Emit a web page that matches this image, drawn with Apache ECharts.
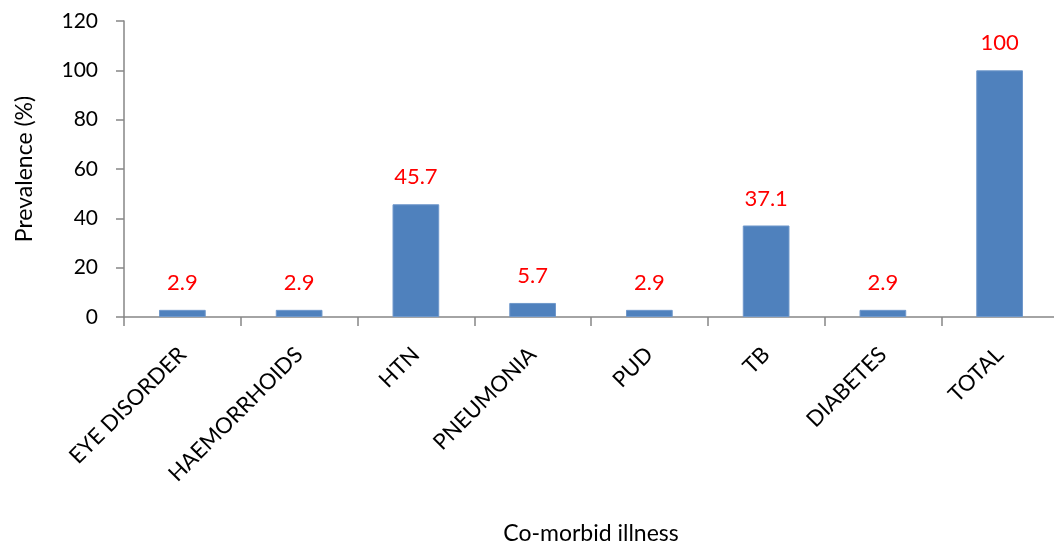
<!DOCTYPE html>
<html>
<head>
<meta charset="utf-8">
<script src="https://cdn.jsdelivr.net/npm/echarts@6/dist/echarts.min.js"></script>
<style>
html,body{margin:0;padding:0;background:#fff;}
#chart{width:1054px;height:546px;}
</style>
</head>
<body>
<div id="chart"></div>
<script>
var categories = ["EYE DISORDER", "HAEMORRHOIDS", "HTN", "PNEUMONIA", "PUD", "TB", "DIABETES", "TOTAL"];
var prevalence = [2.9, 2.9, 45.7, 5.7, 2.9, 37.1, 2.9, 100];
var yTicks = [0, 20, 40, 60, 80, 100, 120];

var font = "Lato, 'Noto Sans', sans-serif";
var chart = echarts.init(document.getElementById("chart"));
chart.setOption({
    animation: false,
    grid: {
        left: 124,
        right: -4,
        top: 21,
        bottom: 229,
        outerBoundsMode: "none",
        containLabel: false
    },
    xAxis: {
        type: "category",
        data: categories,
        name: "Co-morbid illness",
        nameLocation: "middle",
        nameGap: 205,
        nameTextStyle: {color: "#000", fontSize: 23, fontFamily: font},
        axisLine: {lineStyle: {color: "#868686", width: 1.5}},
        axisTick: {show: true, length: 9, lineStyle: {color: "#868686", width: 1.5}},
        axisLabel: {
            rotate: 45,
            interval: 0,
            margin: 34,
            color: "#000",
            fontSize: 22,
            fontFamily: font
        }
    },
    yAxis: {
        type: "value",
        min: yTicks[0],
        max: yTicks[yTicks.length - 1],
        interval: 20,
        name: "Prevalence (%)",
        nameLocation: "middle",
        nameGap: 88,
        nameTextStyle: {color: "#000", fontSize: 23, fontFamily: font},
        splitLine: {show: false},
        axisLine: {show: true, lineStyle: {color: "#868686", width: 1.5}},
        axisTick: {show: true, length: 8, lineStyle: {color: "#868686", width: 1.5}},
        axisLabel: {
            margin: 26,
            color: "#000",
            fontSize: 21,
            fontFamily: font
        }
    },
    series: [{
        type: "bar",
        data: prevalence,
        barWidth: "40%",
        itemStyle: {color: "#4F81BD", borderColor: "#6F98CB", borderWidth: 1},
        label: {
            show: true,
            position: "top",
            distance: 16,
            color: "#FF0000",
            fontSize: 22,
            fontFamily: font
        }
    }]
});
window.addEventListener("resize", chart.resize);
</script>
</body>
</html>
